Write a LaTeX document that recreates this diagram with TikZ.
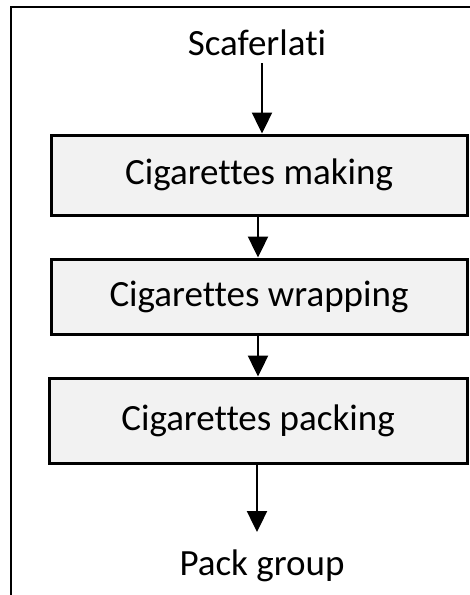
\documentclass[tikz,border=0pt]{standalone}
\usepackage{fontspec}
\setmainfont{Carlito}[Ligatures=NoCommon]
\usetikzlibrary{arrows.meta}
\definecolor{boxfill}{HTML}{F2F2F2}
\tikzset{
  stepbox/.style={draw=black, line width=3pt, fill=boxfill, inner sep=0pt, font=\fontsize{37}{44}\selectfont},
  lbl/.style={inner sep=0pt, anchor=base, font=\fontsize{37}{44}\selectfont},
  arr/.style={line width=2.4pt, -{Triangle[length=21pt,width=20pt]}}
}
\begin{document}
\begin{tikzpicture}[x=1pt,y=-1pt]
\clip (0,0) rectangle (470,595);
\fill[white] (0,0) rectangle (470,595);
% outer frame (only top and left visible)
\draw[line width=2pt] (11,620) -- (11,7) -- (490,7);
% boxes
\node[stepbox, minimum width=416pt, minimum height=80pt] (make) at (259,175) {Cigarettes making};
\node[stepbox, minimum width=416pt, minimum height=75pt] (wrap) at (259,296.5) {Cigarettes wrapping};
\node[stepbox, minimum width=418pt, minimum height=85pt] (pack) at (258,420.5) {Cigarettes packing};
% labels
\node[lbl] (scaf) at (257,55) {Scaferlati};
\node[lbl] (grp) at (262,575) {Pack group};
% connectors
\coordinate (a0) at (262,63);
\coordinate (a4) at (257,532);
\draw[arr] (a0) -- (a0 |- make.north);
\draw[arr] (make.south -| 258,0) -- (wrap.north -| 258,0);
\draw[arr] (wrap.south -| 258,0) -- (pack.north -| 258,0);
\draw[arr] (pack.south -| a4) -- (a4);
\end{tikzpicture}
\end{document}
